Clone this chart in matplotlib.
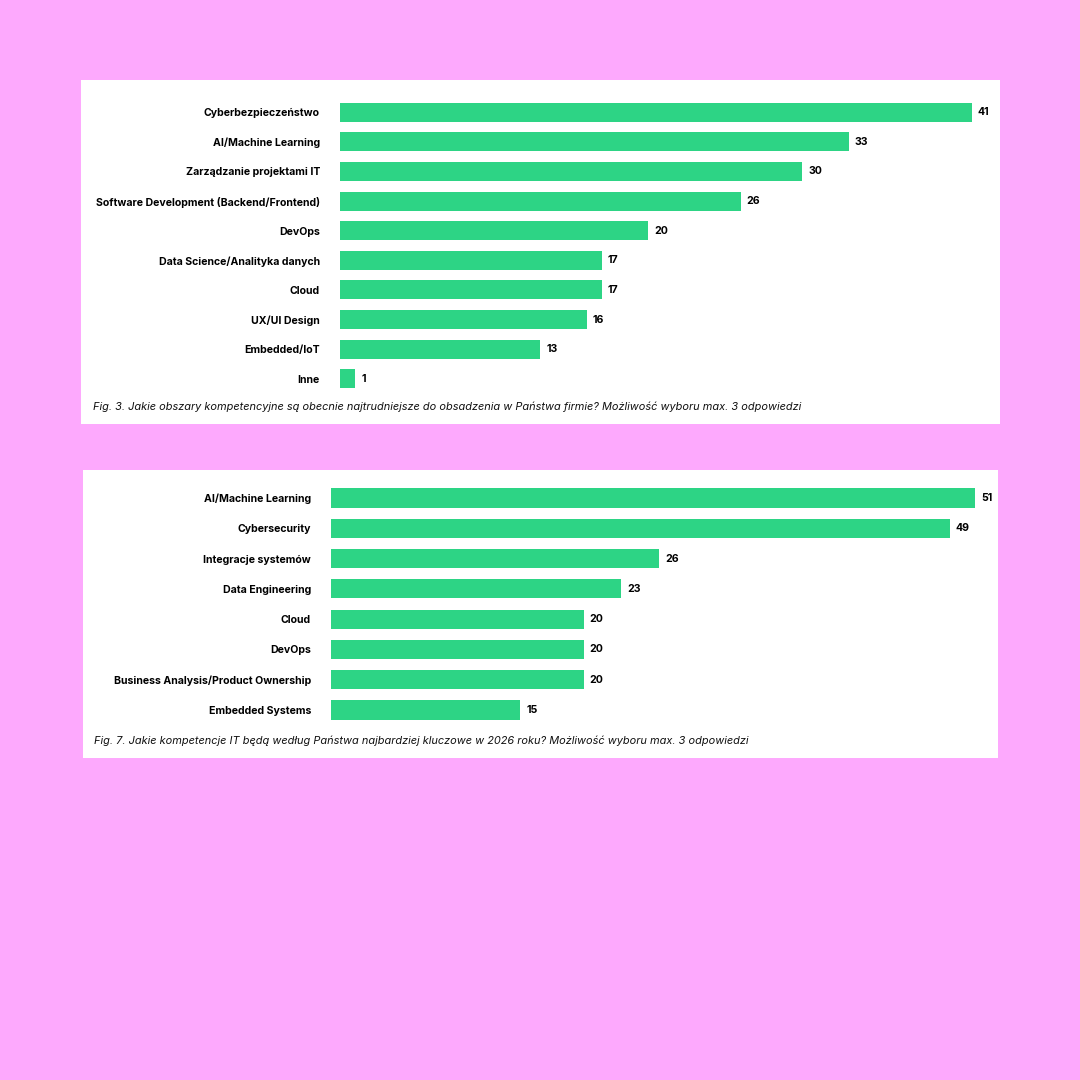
import matplotlib.pyplot as plt
from matplotlib.patches import Rectangle

# --- data ---
top_labels = ['Cyberbezpieczeństwo', 'AI/Machine Learning', 'Zarządzanie projektami IT',
              'Software Development (Backend/Frontend)', 'DevOps',
              'Data Science/Analityka danych', 'Cloud', 'UX/UI Design',
              'Embedded/IoT', 'Inne']
top_values = [41, 33, 30, 26, 20, 17, 17, 16, 13, 1]
top_caption = ('Fig. 3. Jakie obszary kompetencyjne są obecnie najtrudniejsze do obsadzenia '
               'w Państwa firmie? Możliwość wyboru max. 3 odpowiedzi')

bottom_labels = ['AI/Machine Learning', 'Cybersecurity', 'Integracje systemów',
                 'Data Engineering', 'Cloud', 'DevOps',
                 'Business Analysis/Product Ownership', 'Embedded Systems']
bottom_values = [51, 49, 26, 23, 20, 20, 20, 15]
bottom_caption = ('Fig. 7. Jakie kompetencje IT będą według Państwa najbardziej kluczowe '
                  'w 2026 roku? Możliwość wyboru max. 3 odpowiedzi')

PINK = '#fda9fd'
GREEN = '#2dd485'
FONT = 'Inter'
W = H = 1080.0

fig = plt.figure(figsize=(10.8, 10.8), dpi=100, facecolor=PINK)


def px(x0, y0, x1, y1):
    # pixel box (top-left origin) -> figure fraction rect
    return [x0 / W, 1 - y1 / H, (x1 - x0) / W, (y1 - y0) / H]


def panel(box, ax_box, labels, values, bar_h, caption, cap_xy):
    fig.patches.append(Rectangle(box[:2], box[2], box[3], transform=fig.transFigure,
                                 facecolor='white', edgecolor='none', zorder=-5))
    ax = fig.add_axes(ax_box, zorder=2)
    ax.set_facecolor('none')
    pos = list(range(len(labels)))
    ax.barh(pos, values, height=bar_h, color=GREEN)
    ax.set_xlim(0, max(values))
    ax.set_ylim(len(labels) - 0.5, -0.5)
    ax.set_yticks(pos)
    ax.set_yticklabels(labels, fontfamily=FONT, fontweight='bold', fontsize=7.6)
    ax.tick_params(left=False, bottom=False, labelbottom=False, length=0, pad=14.4)
    for s in ax.spines.values():
        s.set_visible(False)
    for p, v in zip(pos, values):
        ax.annotate(str(v), (v, p), xytext=(4.3, 0), textcoords='offset points',
                    va='center', ha='left', fontfamily=FONT, fontweight='bold',
                    fontsize=7.6, annotation_clip=False)
    fig.text(cap_xy[0] / W, 1 - cap_xy[1] / H, caption, fontfamily=FONT,
             style='italic', fontsize=7.9, va='center', ha='left', color='#111111',
             zorder=3)
    return ax


panel(px(81, 80, 1000, 424), px(340, 97.2, 972, 393.8), top_labels, top_values,
      0.64, top_caption, (93, 407))
panel(px(83, 470, 998, 758), px(331, 482.85, 975, 725.15), bottom_labels, bottom_values,
      0.63, bottom_caption, (94, 741))

fig.savefig('out.png', dpi=100, facecolor=PINK)
